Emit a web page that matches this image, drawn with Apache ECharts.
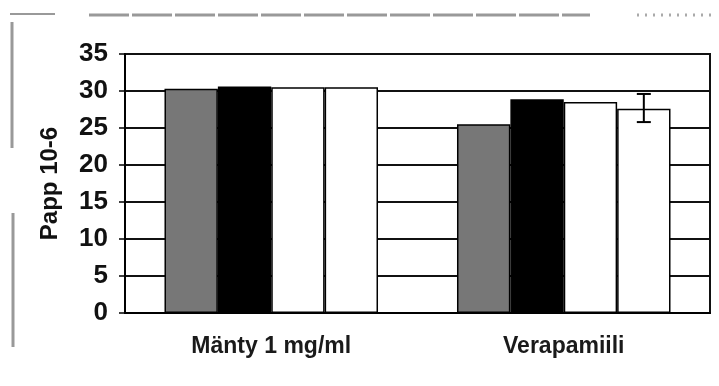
<!DOCTYPE html>
<html>
<head>
<meta charset="utf-8">
<script src="https://cdn.jsdelivr.net/npm/echarts@6/dist/echarts.min.js"></script>
<style>
html,body{margin:0;padding:0;background:#fff;}
#chart{width:719px;height:386px;}
</style>
</head>
<body>
<div id="chart"></div>
<script>
var categories = ['Mänty 1 mg/ml', 'Verapamiili'];
var yTicks = [0, 5, 10, 15, 20, 25, 30, 35];
var grayValues = [30.3, 25.5];
var blackValues = [30.6, 28.9];
var white1Values = [30.5, 28.5];
var white2Values = [30.5, 27.6];
var errLow = [null, 25.8];
var errHigh = [null, 29.6];

var CAT_GAP = 0.27;
var N_BARS = 4;

var chart = echarts.init(document.getElementById('chart'));
var font = 'Arial, "Liberation Sans", sans-serif';

var errData = categories.map(function (c, i) {
  return errLow[i] == null ? [i, '-', '-'] : [i, errLow[i], errHigh[i]];
});

function barSeries(data, color) {
  return {
    type: 'bar',
    data: data,
    barGap: '0%',
    barCategoryGap: (CAT_GAP * 100) + '%',
    itemStyle: { color: color, borderColor: '#000', borderWidth: 1.5 },
    silent: true,
    z: 2
  };
}

chart.setOption({
  animation: false,
  backgroundColor: '#fff',
  grid: {
    left: 125, right: 9, top: 54, bottom: 73,
    show: true, borderColor: '#111', borderWidth: 2, backgroundColor: 'transparent'
  },
  xAxis: {
    type: 'category',
    data: categories,
    axisLine: { lineStyle: { color: '#000', width: 2 } },
    axisTick: { show: false },
    axisLabel: { fontFamily: font, fontSize: 23, fontWeight: 'bold', color: '#1a1a1a', margin: 22 }
  },
  yAxis: {
    type: 'value',
    min: yTicks[0],
    max: yTicks[yTicks.length - 1],
    interval: yTicks[1] - yTicks[0],
    name: 'Papp 10-6',
    nameLocation: 'middle',
    nameGap: 63,
    nameTextStyle: { fontFamily: font, fontSize: 24, fontWeight: 'bold', color: '#111' },
    axisLine: { show: true, lineStyle: { color: '#000', width: 2 } },
    axisTick: { show: true, length: 6, lineStyle: { color: '#000', width: 1.5 } },
    axisLabel: { fontFamily: font, fontSize: 26, fontWeight: 'bold', color: '#111', margin: 17 },
    splitLine: { show: true, lineStyle: { color: '#111', width: 2 } }
  },
  series: [
    barSeries(grayValues, '#777'),
    barSeries(blackValues, '#000'),
    barSeries(white1Values, '#fff'),
    barSeries(white2Values, '#fff'),
    {
      type: 'custom',
      data: errData,
      z: 5,
      silent: true,
      renderItem: function (params, api) {
        var lo = api.value(1), hi = api.value(2);
        if (isNaN(lo) || isNaN(hi)) return;
        var band = api.size([1, 0])[0];
        var bw = band * (1 - CAT_GAP) / N_BARS;
        var base = api.coord([api.value(0), lo]);
        var top = api.coord([api.value(0), hi]);
        var x = base[0] + 1.5 * bw;
        var cap = 7;
        var st = { stroke: '#000', lineWidth: 2 };
        return {
          type: 'group',
          children: [
            { type: 'line', shape: { x1: x, y1: top[1], x2: x, y2: base[1] }, style: st },
            { type: 'line', shape: { x1: x - cap, y1: top[1], x2: x + cap, y2: top[1] }, style: st },
            { type: 'line', shape: { x1: x - cap, y1: base[1], x2: x + cap, y2: base[1] }, style: st }
          ]
        };
      }
    }
  ],
  graphic: [
    { type: 'line', shape: { x1: 89, y1: 15, x2: 590, y2: 15 }, style: { stroke: '#999', lineWidth: 3, lineDash: [40, 3] }, silent: true },
    { type: 'line', shape: { x1: 637, y1: 15, x2: 713, y2: 15 }, style: { stroke: '#aaa', lineWidth: 3, lineDash: [2, 6] }, silent: true },
    { type: 'line', shape: { x1: 10, y1: 14, x2: 55, y2: 14 }, style: { stroke: '#999', lineWidth: 2 }, silent: true },
    { type: 'line', shape: { x1: 12, y1: 22, x2: 12, y2: 148 }, style: { stroke: '#999', lineWidth: 3 }, silent: true },
    { type: 'line', shape: { x1: 13, y1: 213, x2: 13, y2: 347 }, style: { stroke: '#999', lineWidth: 3 }, silent: true }
  ]
});
</script>
</body>
</html>
